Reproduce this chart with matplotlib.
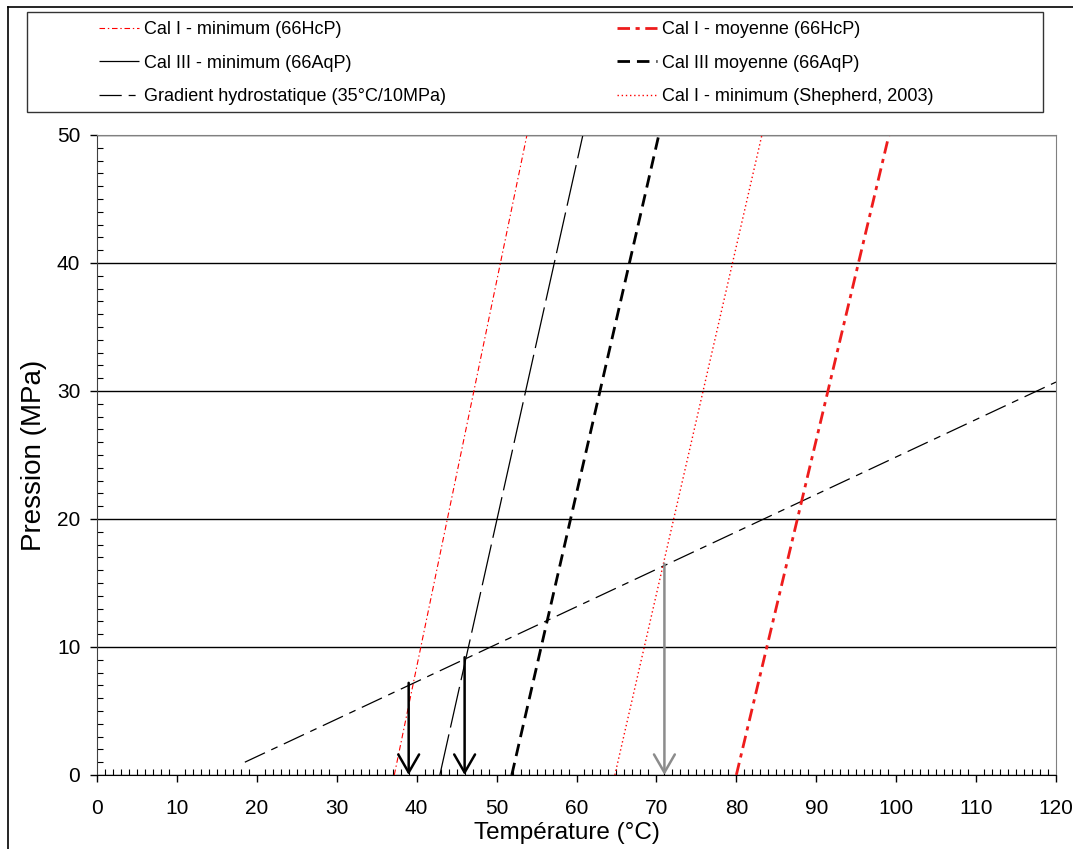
"""Isochores des inclusions fluides et gradient hydrostatique (P-T)."""

import matplotlib

matplotlib.use("Agg")
import matplotlib.pyplot as plt  # noqa: E402
from matplotlib.patches import Rectangle, FancyArrowPatch  # noqa: E402
from matplotlib.lines import Line2D  # noqa: E402
from matplotlib.ticker import MultipleLocator  # noqa: E402

plt.rcParams["font.family"] = ["Liberation Sans", "DejaVu Sans"]
plt.rcParams["lines.scale_dashes"] = False

# Isochores : temperature (degC) a P = 0 et P = 50 MPa
pression_bornes = [0, 50]
cal1_min_hcp = [37.2, 53.8]
cal1_moy_hcp = [80.0, 99.1]
cal3_min_aqp = [42.9, 60.8]
cal3_moy_aqp = [51.9, 70.3]
cal1_min_shepherd = [64.8, 83.2]

# Gradient hydrostatique
gradient_temp = [18.5, 120]
gradient_press = [1.0, 30.7]

# Fleches (temperatures de piegeage)
fleche_temp = [39, 46, 71]
fleche_press = [7.2, 9.2, 16.5]
fleche_couleur = ["black", "black", "#8c8c8c"]

W, H = 1073, 849
fig = plt.figure(figsize=(W / 100, H / 100), dpi=100)

# cadre exterieur et cadre de legende
fig.add_artist(Line2D([8 / W, 8 / W], [0, 1 - 7 / H], color="black", lw=1.2,
                      transform=fig.transFigure))
fig.add_artist(Line2D([8 / W, 1], [1 - 7 / H, 1 - 7 / H], color="black", lw=1.2,
                      transform=fig.transFigure))
fig.add_artist(Rectangle((27 / W, 1 - 112 / H), 1016 / W, 100 / H,
                         transform=fig.transFigure, fill=False,
                         edgecolor="#333333", lw=1.0))

ax = fig.add_axes([97 / W, 74 / H, 959 / W, 640 / H])

h1, = ax.plot(cal1_min_hcp, pression_bornes, color="red", lw=0.8,
              dashes=(4, 2, 1, 2), label="Cal I - minimum (66HcP)")
h3, = ax.plot(cal3_min_aqp, pression_bornes, color="black", lw=0.9,
              dashes=(30, 5), label="Cal III - minimum (66AqP)")
hg, = ax.plot(gradient_temp, gradient_press, color="black", lw=0.9,
              dashes=(16, 5, 5, 5), label="Gradient hydrostatique (35°C/10MPa)")
h2, = ax.plot(cal1_moy_hcp, pression_bornes, color="#ee1c1c", lw=2.0,
              dashes=(9, 4, 3, 4), label="Cal I - moyenne (66HcP)")
h4, = ax.plot(cal3_moy_aqp, pression_bornes, color="black", lw=2.0,
              dashes=(9, 5), label="Cal III moyenne (66AqP)")
h5, = ax.plot(cal1_min_shepherd, pression_bornes, color="red", lw=1.0,
              dashes=(1, 2), label="Cal I - minimum (Shepherd, 2003)")

for t, p, c in zip(fleche_temp, fleche_press, fleche_couleur):
    ax.add_patch(FancyArrowPatch((t, p), (t, 0), arrowstyle="->,head_length=1.3,head_width=0.75",
                                 mutation_scale=10, color=c, lw=1.8,
                                 shrinkA=0, shrinkB=0, zorder=5))

ax.set_xlim(0, 120)
ax.set_ylim(0, 50)
ax.xaxis.set_major_locator(MultipleLocator(10))
ax.xaxis.set_minor_locator(MultipleLocator(1))
ax.yaxis.set_major_locator(MultipleLocator(10))
ax.yaxis.set_minor_locator(MultipleLocator(1))
ax.tick_params(which="major", direction="out", length=5, width=1, labelsize=15)
ax.tick_params(which="minor", direction="in", length=4, width=0.8)
ax.tick_params(axis="x", which="major", pad=12)
ax.tick_params(axis="y", which="major", pad=7)
ax.grid(True, axis="y", which="major", color="black", lw=1.0)
ax.set_axisbelow(True)
for side in ("top", "right"):
    ax.spines[side].set_color("#808080")
ax.spines["left"].set_color("#404040")
ax.spines["bottom"].set_color("black")

ax.set_xlabel("Température (°C)", fontsize=17.5, labelpad=3, x=0.49)
ax.set_ylabel("Pression (MPa)", fontsize=20, labelpad=7)

fig.legend(handles=[h1, h3, hg, h2, h4, h5], ncol=2, loc="upper left",
           bbox_to_anchor=(99 / W, 1 - 21 / H), frameon=False, fontsize=13,
           borderpad=0, borderaxespad=0, handlelength=2.2, handletextpad=0.28,
           labelspacing=0.92, columnspacing=9.5)

fig.savefig("out.png", dpi=100)
